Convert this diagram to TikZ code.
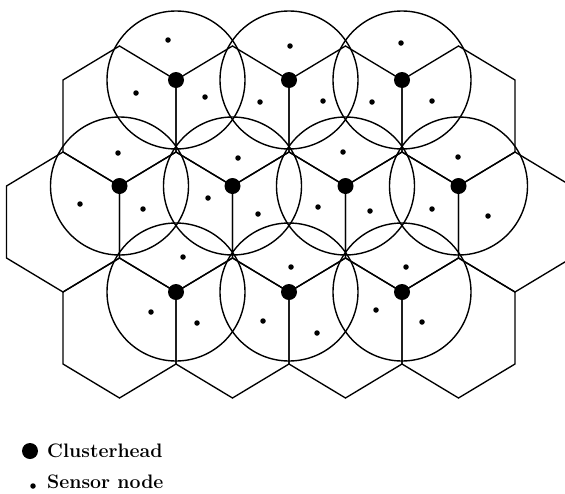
\documentclass[tikz,border=0pt]{standalone}
\usepackage{tikz}

\begin{document}
\begin{tikzpicture}[x=1pt, y=-1pt,
	cell/.style={draw, line width=1.35pt, line join=miter},
	coverage/.style={draw, line width=1.4pt},
	clusterhead/.style={shape=circle, fill, inner sep=0pt, minimum size=16pt},
	sensor/.style={shape=circle, fill, inner sep=0pt, minimum size=5.5pt},
	legendtext/.style={anchor=base west, inner sep=0pt, font=\fontsize{19.5}{22}\selectfont\bfseries}]
			\useasboundingbox (0,0) rectangle (565,493);
			% Hexagonal cells, second row:
			\draw[cell] (119.5,46) -- (176,80) -- (176,152) -- (119.5,186) -- (63,152) -- (63,80) -- cycle;
			\draw[cell] (232.5,46) -- (289,80) -- (289,152) -- (232.5,186) -- (176,152) -- (176,80) -- cycle;
			\draw[cell] (345.5,46) -- (402,80) -- (402,152) -- (345.5,186) -- (289,152) -- (289,80) -- cycle;
			\draw[cell] (458.5,46) -- (515,80) -- (515,152) -- (458.5,186) -- (402,152) -- (402,80) -- cycle;
			% Hexagonal cells, third row:
			\draw[cell] (63,152) -- (119.5,186) -- (119.5,258) -- (63,292) -- (6.5,258) -- (6.5,186) -- cycle;
			\draw[cell] (176,152) -- (232.5,186) -- (232.5,258) -- (176,292) -- (119.5,258) -- (119.5,186) -- cycle;
			\draw[cell] (289,152) -- (345.5,186) -- (345.5,258) -- (289,292) -- (232.5,258) -- (232.5,186) -- cycle;
			\draw[cell] (402,152) -- (458.5,186) -- (458.5,258) -- (402,292) -- (345.5,258) -- (345.5,186) -- cycle;
			\draw[cell] (515,152) -- (571.5,186) -- (571.5,258) -- (515,292) -- (458.5,258) -- (458.5,186) -- cycle;
			% Hexagonal cells, fourth row:
			\draw[cell] (119.5,258) -- (176,292) -- (176,364) -- (119.5,398) -- (63,364) -- (63,292) -- cycle;
			\draw[cell] (232.5,258) -- (289,292) -- (289,364) -- (232.5,398) -- (176,364) -- (176,292) -- cycle;
			\draw[cell] (345.5,258) -- (402,292) -- (402,364) -- (345.5,398) -- (289,364) -- (289,292) -- cycle;
			\draw[cell] (458.5,258) -- (515,292) -- (515,364) -- (458.5,398) -- (402,364) -- (402,292) -- cycle;
			% Clusterheads:
			\node[clusterhead](C1) at (176,80){};
			\node[clusterhead](C2) at (289,80){};
			\node[clusterhead](C3) at (402,80){};
			\node[clusterhead](C4) at (119.5,186){};
			\node[clusterhead](C5) at (232.5,186){};
			\node[clusterhead](C6) at (345.5,186){};
			\node[clusterhead](C7) at (458.5,186){};
			\node[clusterhead](C8) at (176,292){};
			\node[clusterhead](C9) at (289,292){};
			\node[clusterhead](C10) at (402,292){};
			% Coverage circles:
			\draw[coverage] (C1.center) circle (69);
			\draw[coverage] (C2.center) circle (69);
			\draw[coverage] (C3.center) circle (69);
			\draw[coverage] (C4.center) circle (69);
			\draw[coverage] (C5.center) circle (69);
			\draw[coverage] (C6.center) circle (69);
			\draw[coverage] (C7.center) circle (69);
			\draw[coverage] (C8.center) circle (69);
			\draw[coverage] (C9.center) circle (69);
			\draw[coverage] (C10.center) circle (69);
			% Sensor nodes:
			\node[sensor](S1) at (168,40){};
			\node[sensor](S2) at (136,93){};
			\node[sensor](S3) at (205,97){};
			\node[sensor](S4) at (290,46){};
			\node[sensor](S5) at (260,102){};
			\node[sensor](S6) at (323,101){};
			\node[sensor](S7) at (401,43){};
			\node[sensor](S8) at (372,102){};
			\node[sensor](S9) at (432,101){};
			\node[sensor](S10) at (118,153){};
			\node[sensor](S11) at (80,204){};
			\node[sensor](S12) at (143,209){};
			\node[sensor](S13) at (238,158){};
			\node[sensor](S14) at (208,198){};
			\node[sensor](S15) at (258,214){};
			\node[sensor](S16) at (343,152){};
			\node[sensor](S17) at (318,207){};
			\node[sensor](S18) at (370,211){};
			\node[sensor](S19) at (458,157){};
			\node[sensor](S20) at (432,209){};
			\node[sensor](S21) at (488,216){};
			\node[sensor](S22) at (183,257){};
			\node[sensor](S23) at (151,312){};
			\node[sensor](S24) at (197,323){};
			\node[sensor](S25) at (291,267){};
			\node[sensor](S26) at (263,321){};
			\node[sensor](S27) at (317,333){};
			\node[sensor](S28) at (406,267){};
			\node[sensor](S29) at (376,310){};
			\node[sensor](S30) at (422,322){};
			% Legend:
			\node[clusterhead](L1) at (30,451){};
			\node[legendtext](T1) at (47,457){Clusterhead};
			\node[sensor](L2) at (33,486){};
			\node[legendtext](T2) at (47,488){Sensor node};
\end{tikzpicture}
\end{document}
